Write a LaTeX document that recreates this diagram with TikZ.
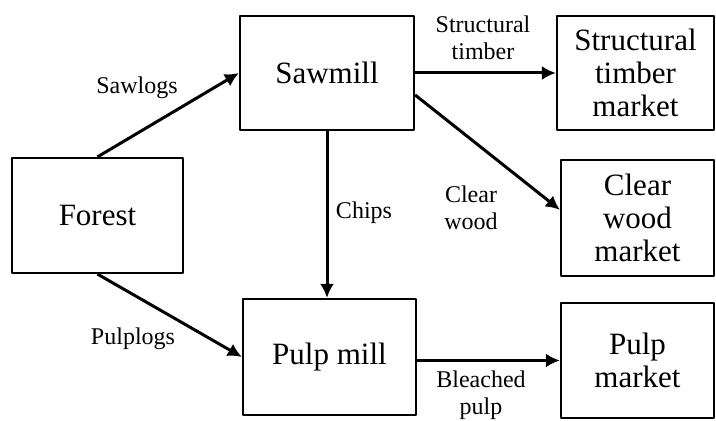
\documentclass[tikz,border=0pt]{standalone}
\usepackage{fontspec}
\setmainfont{Liberation Serif}
\usetikzlibrary{arrows.meta}
\begin{document}
\begin{tikzpicture}[x=0.5pt, y=0.5pt, line join=round, >={Latex[length=7pt,width=7pt]},
	box/.style={draw, line width=1.1pt, align=center, inner sep=0pt, font=\fontsize{15.5}{16.3}\selectfont},
	flow/.style={->, line width=1.5pt},
	lbl/.style={align=center, inner sep=1pt, font=\fontsize{12}{13.5}\selectfont}]
	\useasboundingbox (0,0) rectangle (716,421);
	% boxes
	\node[box, minimum width=85.5pt, minimum height=57.5pt] (forest) at (97.5,205.5) {Forest};
	\node[box, minimum width=87pt, minimum height=57pt] (sawmill) at (327,348) {Sawmill};
	\node[box, minimum width=86.5pt, minimum height=58pt] (pulpmill) at (329.5,64) {Pulp mill};
	\node[box, minimum width=78.5pt, minimum height=57pt] (stmarket) at (635.5,348) {Structural\\timber\\market};
	\node[box, minimum width=76.5pt, minimum height=58pt] (cwmarket) at (637.5,203) {Clear\\wood\\market};
	\node[box, minimum width=76.5pt, minimum height=57.5pt] (pmarket) at (637.5,60.5) {Pulp\\market};
	% flows
	\draw[flow] (forest.north) -- (sawmill.west);
	\draw[flow] (forest.south) -- (pulpmill.west);
	\draw[flow] (sawmill.south) -- (sawmill.south |- pulpmill.north);
	\draw[flow] (sawmill.east) -- (stmarket.west);
	\draw[flow] (sawmill.-14) -- (cwmarket.174);
	\draw[flow] (pulpmill.east |- pmarket.west) -- (pmarket.west);
	% labels
	\node[lbl] (sawlogs) at (137,333) {Sawlogs};
	\node[lbl] (pulplogs) at (133,82) {Pulplogs};
	\node[lbl] (chips) at (364,208) {Chips};
	\node[lbl] (sttimber) at (483,383) {Structural\\timber};
	\node[lbl] (clearwood) at (471,213) {Clear\\wood};
	\node[lbl] (bleached) at (481,26) {Bleached\\pulp};
\end{tikzpicture}
\end{document}
